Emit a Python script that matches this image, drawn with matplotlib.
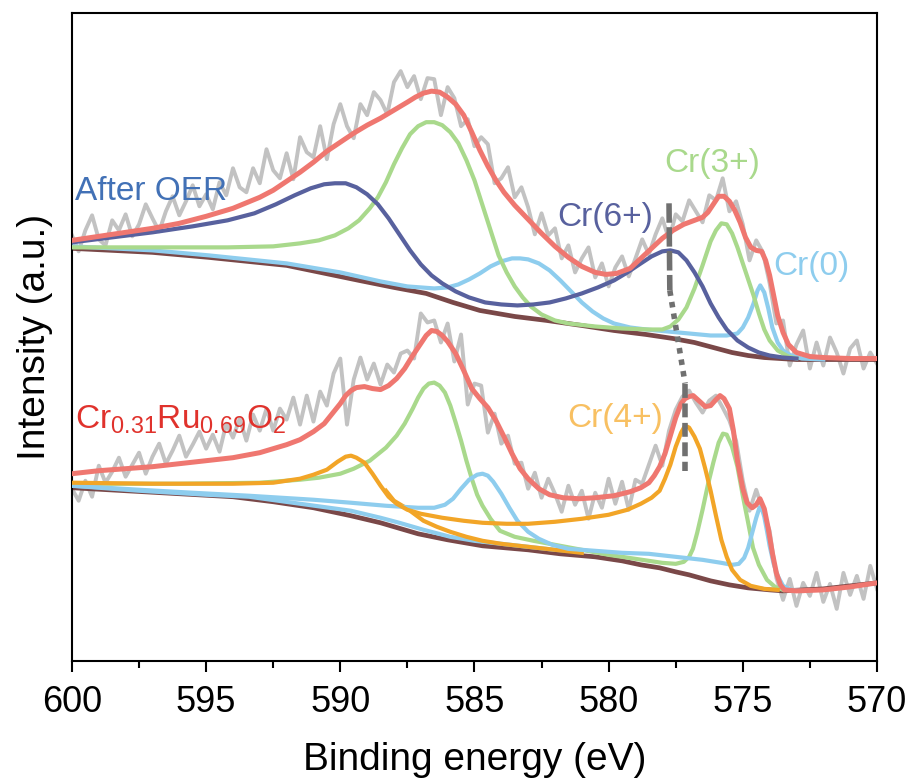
import numpy as np
import matplotlib
matplotlib.use("Agg")
import matplotlib.pyplot as plt
from matplotlib.ticker import MultipleLocator

plt.rcParams["font.family"] = ["Liberation Sans", "DejaVu Sans"]
plt.rcParams["mathtext.default"] = "regular"

# ---------------- DATA (binding energy in eV, intensity in a.u.) ---------------- #

# raw spectra, 0.25 eV steps from 600 to 570
raw_x = np.arange(600.0, 569.99, -0.25)

ao_raw = [425, 409, 430, 445, 421, 415, 440, 430, 446, 424, 436, 456, 442, 429, 449, 464,
          445, 459, 475, 454, 466, 451, 478, 465, 492, 473, 468, 492, 477, 511, 490, 482,
          507, 481, 523, 508, 503, 534, 501, 536, 556, 534, 522, 556, 545, 568, 560, 546,
          578, 589, 573, 584, 561, 582, 581, 545, 573, 562, 534, 541, 514, 523, 516, 477,
          482, 493, 463, 473, 453, 426, 447, 425, 432, 402, 415, 388, 402, 413, 383, 397,
          374, 393, 404, 384, 402, 421, 406, 426, 442, 421, 446, 439, 460, 449, 438, 465,
          460, 482, 449, 459, 436, 400, 420, 408, 377, 337, 340, 295, 316, 330, 292, 318,
          295, 323, 308, 287, 312, 320, 292, 308, 297]

cro_raw = [172, 160, 180, 164, 195, 178, 189, 203, 184, 196, 208, 187, 204, 217, 197, 210,
           225, 204, 216, 229, 212, 226, 209, 237, 223, 242, 220, 246, 230, 252, 230, 252,
           241, 263, 236, 265, 239, 269, 255, 287, 302, 236, 281, 303, 281, 297, 276, 296,
           288, 307, 310, 302, 347, 338, 340, 318, 337, 299, 326, 256, 277, 275, 228, 247,
           217, 225, 197, 198, 172, 188, 163, 182, 167, 149, 175, 156, 170, 142, 168, 153,
           182, 157, 179, 151, 181, 177, 196, 215, 195, 230, 251, 264, 270, 258, 248, 260,
           265, 253, 240, 220, 180, 150, 171, 150, 130, 83, 61, 82, 55, 78, 65, 88,
           59, 77, 52, 88, 66, 85, 62, 95, 72]

# After OER: background, envelope and components
ao_bg_x = [600.0, 597.0, 594.9, 592.0, 589.3, 588.0, 586.8, 585.8, 584.8, 583.5, 582.3,
           581.0, 579.8, 578.6, 577.6, 576.8, 576.1, 575.4, 574.8, 574.2, 573.6, 573.0, 572.0, 570.0]
ao_bg_y = [412, 408, 403, 395, 380, 373, 367, 358, 350, 344, 340,
           335, 330, 326, 322, 318, 313, 308, 305, 303, 302, 301, 301, 301]

ao_env_x = [600.0, 599.0, 598.0, 597.0, 596.0, 595.0, 594.0, 593.0, 592.5, 592.0, 591.5,
            591.0, 590.5, 590.0, 589.5, 589.0, 588.5, 588.0, 587.5, 587.2, 586.9, 586.6,
            586.3, 586.0, 585.7, 585.4, 585.1, 584.8, 584.5, 584.2, 583.9, 583.5, 583.0,
            582.5, 582.0, 581.5, 581.0, 580.5, 580.1, 579.7, 579.2, 578.8, 578.4, 578.0,
            577.6, 577.2, 576.8, 576.5, 576.3, 576.1, 575.9, 575.7, 575.5, 575.3, 575.1,
            574.9, 574.7, 574.5, 574.3, 574.15, 574.0, 573.85, 573.7, 573.5, 573.3, 573.0,
            572.5, 572.0, 571.0, 570.0]
ao_env_y = [420, 424, 428, 432, 437, 444, 452, 463, 470, 479, 488,
            498, 509, 518, 527, 535, 542, 550, 558, 563, 567, 569,
            568, 563, 556, 545, 528, 510, 494, 480, 468, 455, 441,
            427, 414, 403, 394, 388, 386, 387, 392, 402, 412, 422,
            430, 436, 440, 443, 448, 456, 464, 464, 459, 450, 438,
            423, 413, 410, 409, 400, 385, 365, 345, 328, 316, 308,
            304, 303, 302, 302]

ao_cr6_x = [600.0, 598.5, 597.0, 595.5, 594.2, 593.2, 592.4, 591.7, 591.1, 590.6, 590.2,
            589.8, 589.4, 589.0, 588.6, 588.2, 587.8, 587.4, 587.0, 586.6, 586.2, 585.7,
            585.2, 584.6, 584.0, 583.4, 582.8, 582.2, 581.6, 581.0, 580.4, 579.8, 579.3,
            578.8, 578.4, 578.0, 577.7, 577.4, 577.1, 576.8, 576.5, 576.2, 575.9, 575.6,
            575.2, 574.8, 574.4, 574.0, 573.5, 573.0]
ao_cr6_y = [418, 423, 428, 434, 440, 447, 456, 465, 472, 476, 477,
            477, 473, 466, 456, 442, 426, 410, 396, 385, 377, 369,
            363, 358, 356, 355, 356, 358, 362, 367, 373, 380, 388,
            397, 404, 409, 410, 408, 400, 388, 374, 357, 343, 331,
            320, 313, 308, 305, 303, 302]

ao_cr3_x = [600.0, 597.0, 594.2, 592.5, 591.5, 590.8, 590.2, 589.7, 589.3, 588.9, 588.6,
            588.3, 588.0, 587.7, 587.4, 587.1, 586.8, 586.5, 586.2, 585.9, 585.6, 585.3,
            585.0, 584.7, 584.4, 584.1, 583.8, 583.5, 583.2, 582.9, 582.5, 582.0, 581.5,
            580.5, 579.5, 578.5, 578.0, 577.7, 577.4, 577.1, 576.8, 576.5, 576.2, 576.0,
            575.8, 575.6, 575.4, 575.2, 575.0, 574.8, 574.6, 574.4, 574.2, 574.0, 573.7,
            573.3, 573.0]
ao_cr3_y = [413, 413, 413, 414, 417, 420, 425, 432, 440, 452, 463,
            478, 496, 512, 526, 534, 538, 538, 535, 528, 517, 500,
            480, 455, 430, 405, 388, 374, 363, 354, 346, 340, 337,
            334, 332, 331, 331, 334, 341, 353, 372, 395, 419, 430,
            437, 436, 427, 413, 397, 381, 365, 347, 331, 320, 310,
            304, 302]

ao_cr0_x = [600.0, 597.0, 594.9, 592.0, 590.0, 588.5, 587.5, 587.0, 586.5, 586.0, 585.6,
            585.2, 584.8, 584.4, 584.0, 583.6, 583.3, 583.0, 582.6, 582.2, 581.8, 581.4,
            581.0, 580.6, 580.2, 579.8, 579.2, 578.6, 577.8, 577.0, 576.2, 575.6, 575.2,
            575.0, 574.8, 574.6, 574.45, 574.35, 574.2, 574.05, 573.9, 573.7, 573.5, 573.2,
            572.8, 572.0]
ao_cr0_y = [414, 410, 405, 397, 388, 379, 374, 373, 372, 373, 376,
            381, 387, 394, 399, 402, 402, 401, 397, 390, 380, 369,
            358, 349, 342, 337, 333, 331, 329, 327, 325, 325, 327,
            333, 343, 357, 370, 375, 368, 352, 333, 318, 310, 305,
            302, 301]

# Cr0.31Ru0.69O2: background, envelope and components
cro_bg_x = [600.0, 598.0, 596.0, 594.0, 592.5, 591.0, 589.6, 588.5, 587.1, 586.0, 584.7,
            583.0, 581.8, 580.5, 579.5, 578.8, 578.1, 577.5, 577.0, 576.2, 575.5, 574.8,
            574.0, 573.5, 572.0, 570.0]
cro_bg_y = [173, 170, 167, 164, 159, 153, 145, 138, 127, 121, 115,
            111, 107, 104, 100, 96, 93, 89, 86, 80, 76, 73,
            71, 70, 72, 78]

cro_env_x = [600.0, 599.0, 598.0, 597.0, 596.0, 595.0, 594.0, 593.0, 592.5, 592.0, 591.5,
             591.0, 590.6, 590.3, 590.0, 589.8, 589.6, 589.4, 589.1, 588.8, 588.5, 588.2,
             587.9, 587.6, 587.3, 587.0, 586.8, 586.6, 586.4, 586.2, 586.0, 585.7, 585.4,
             585.1, 584.8, 584.5, 584.2, 583.9, 583.6, 583.3, 583.0, 582.6, 582.2, 581.7,
             581.1, 580.5, 579.8, 579.2, 578.8, 578.5, 578.3, 578.1, 577.9, 577.7, 577.5,
             577.3, 577.15, 577.0, 576.85, 576.6, 576.4, 576.2, 576.0, 575.85, 575.7, 575.5,
             575.35, 575.2, 575.0, 574.84, 574.65, 574.5, 574.36, 574.2, 574.05, 573.9,
             573.75, 573.6, 573.45, 573.0, 572.0, 571.0, 570.0]
cro_env_y = [187, 190, 192, 194, 197, 200, 203, 208, 212, 216, 221,
             229, 237, 247, 257, 265, 270, 273, 274, 272, 271, 275,
             282, 292, 305, 317, 325, 330, 329, 325, 319, 307, 290,
             272, 262, 253, 240, 224, 207, 192, 182, 172, 166, 163,
             162, 163, 165, 169, 173, 178, 185, 194, 207, 225, 243,
             257, 262, 264, 265, 259, 254, 255, 261, 265, 262, 252,
             230, 200, 172, 158, 153, 156, 162, 152, 132, 108,
             88, 76, 71, 70, 71, 74, 78]

cro_cr4_x = [600.0, 597.0, 594.0, 592.5, 591.5, 591.0, 590.5, 590.1, 589.8, 589.6, 589.4,
             589.1, 588.8, 588.5, 588.2, 587.9, 587.5, 587.0, 586.2, 585.4, 584.7, 583.8,
             583.0, 582.0, 581.0, 580.0, 579.3, 578.8, 578.4, 578.1, 577.9, 577.7, 577.5,
             577.3, 577.15, 577.0, 576.8, 576.6, 576.4, 576.2, 576.0, 575.8, 575.6, 575.4,
             575.1, 574.7, 574.2, 573.7]
cro_cr4_y = [178, 177, 177, 178, 182, 186, 191, 199, 204, 205, 203,
             198, 187, 175, 164, 157, 151, 147, 143, 140, 138, 137,
             137, 139, 142, 146, 151, 157, 163, 170, 182, 196, 214,
             228, 235, 233, 224, 212, 192, 170, 145, 121, 104, 91,
             81, 75, 72, 71]

# second orange trace running down to the background
cro_cr4b_x = [588.3, 588.0, 587.5, 586.9, 586.4, 585.9, 585.3, 584.7, 584.0, 583.0, 582.0, 581.0]
cro_cr4b_y = [170, 160, 152, 140, 134, 129, 124, 120, 117, 114, 111, 108]

cro_cr3_x = [600.0, 596.0, 593.0, 591.5, 590.8, 590.0, 589.5, 588.9, 588.3, 587.9, 587.6,
             587.3, 587.1, 586.9, 586.7, 586.5, 586.3, 586.1, 585.9, 585.7, 585.5, 585.3,
             585.1, 584.9, 584.7, 584.4, 584.05, 583.5, 582.8, 581.4, 580.0, 579.0, 578.0,
             577.5, 577.2, 577.0, 576.86, 576.7, 576.5, 576.3, 576.1, 575.9, 575.74, 575.6,
             575.4, 575.2, 575.0, 574.8, 574.62, 574.4, 574.1, 573.8, 573.5]
cro_cr3_y = [177, 177, 178, 181, 183, 187, 192, 200, 213, 225, 237,
             252, 263, 272, 277, 278, 275, 268, 255, 238, 220, 200,
             182, 166, 155, 142, 130, 124, 120, 113, 106, 102, 98,
             97, 99, 104, 112, 128, 151, 176, 198, 218, 227, 226,
             214, 194, 165, 138, 113, 96, 81, 74, 71]

cro_cr0_x = [600.0, 597.5, 595.5, 593.4, 591.0, 589.6, 588.3, 587.1, 586.5, 586.1, 585.8,
             585.5, 585.2, 584.9, 584.7, 584.5, 584.3, 584.0, 583.7, 583.4, 583.0, 582.6,
             582.1, 581.5, 580.5, 579.5, 578.5, 577.5, 576.5, 575.8, 575.4, 575.15, 574.95,
             574.8, 574.65, 574.5, 574.38, 574.3, 574.2, 574.1, 574.0, 573.85, 573.7, 573.5,
             573.2, 572.8]
cro_cr0_y = [175, 171, 168, 165, 161, 158, 155, 153, 153, 156, 162,
             172, 181, 186, 187, 185, 179, 167, 153, 140, 129, 122,
             116, 112, 110, 108, 107, 104, 101, 98, 96, 97, 103,
             113, 128, 143, 153, 153, 144, 130, 115, 97, 85, 75,
             71, 70]

# second blue trace close to the background
cro_cr0b_x = [600.0, 597.5, 595.0, 593.4, 591.5, 589.6, 588.5, 587.8, 586.9, 585.9, 585.0,
              584.0, 583.0, 582.0, 581.4]
cro_cr0b_y = [175, 170, 166, 164, 157, 150, 143, 138, 131, 124, 120,
              117, 114, 111, 110]

# guide line linking Cr(6+) and Cr(4+) peaks
guide_x = [577.75, 577.72, 577.15, 577.15]
guide_y = [457, 370, 277, 190]

# ---------------- COLOURS ---------------- #

c_raw = "#c2c2c2"
c_env = "#ef7770"
c_bg = "#7a4848"
c_cr6 = "#58619e"
c_cr3 = "#a9d98c"
c_cr0 = "#8ecdee"
c_cr4 = "#f2a527"

# ---------------- PLOT ---------------- #

fig = plt.figure(figsize=(9.12, 7.84), dpi=100)
ax = fig.add_axes([0.0789, 0.1569, 0.8827, 0.8265])

ax.plot(raw_x, ao_raw, color=c_raw, lw=2.8, zorder=1)
ax.plot(raw_x, cro_raw, color=c_raw, lw=2.8, zorder=1)

# after OER
ax.plot(ao_bg_x, ao_bg_y, color=c_bg, lw=3.4, zorder=2)
ax.plot(ao_cr0_x, ao_cr0_y, color=c_cr0, lw=3.0, zorder=3)
ax.plot(ao_cr3_x, ao_cr3_y, color=c_cr3, lw=3.0, zorder=3)
ax.plot(ao_cr6_x, ao_cr6_y, color=c_cr6, lw=3.0, zorder=3)
ax.plot(ao_env_x, ao_env_y, color=c_env, lw=3.6, zorder=4)

# Cr0.31Ru0.69O2
ax.plot(cro_bg_x, cro_bg_y, color=c_bg, lw=3.4, zorder=2)
ax.plot(cro_cr0b_x, cro_cr0b_y, color=c_cr0, lw=3.0, zorder=3)
ax.plot(cro_cr4b_x, cro_cr4b_y, color=c_cr4, lw=3.0, zorder=3)
ax.plot(cro_cr3_x, cro_cr3_y, color=c_cr3, lw=3.0, zorder=3)
ax.plot(cro_cr0_x, cro_cr0_y, color=c_cr0, lw=3.0, zorder=3)
ax.plot(cro_cr4_x, cro_cr4_y, color=c_cr4, lw=3.0, zorder=3)
ax.plot(cro_env_x, cro_env_y, color=c_env, lw=3.6, zorder=4)

# dashed / dotted guide
ax.plot(guide_x[0:2], guide_y[0:2], color="#707070", lw=4, dashes=(3.5, 0.8), zorder=5)
ax.plot(guide_x[1:3], guide_y[1:3], color="#707070", lw=4, dashes=(1, 1.1), zorder=5)
ax.plot(guide_x[2:4], guide_y[2:4], color="#707070", lw=4, dashes=(2.5, 1.0), zorder=5)

# labels
ax.text(599.9, 460, "After OER", color="#4271b6", fontsize=24, ha="left", va="baseline")
ax.text(599.9, 232, r"Cr$_{0.31}$Ru$_{0.69}$O$_2$", color="#e0322c", fontsize=24,
        ha="left", va="baseline")
ax.text(580.14, 434, "Cr(6+)", color=c_cr6, fontsize=24, ha="center", va="baseline")
ax.text(576.15, 488, "Cr(3+)", color=c_cr3, fontsize=24, ha="center", va="baseline")
ax.text(572.46, 385, "Cr(0)", color=c_cr0, fontsize=24, ha="center", va="baseline")
ax.text(579.76, 234, "Cr(4+)", color="#f8c062", fontsize=24, ha="center", va="baseline")

ax.set_xlim(600, 570)
ax.set_ylim(0, 647)
ax.set_yticks([])
ax.xaxis.set_major_locator(MultipleLocator(5))
ax.xaxis.set_minor_locator(MultipleLocator(2.5))
ax.tick_params(axis="x", which="major", direction="out", length=8, width=1.5,
               labelsize=26, pad=9)
ax.tick_params(axis="x", which="minor", direction="out", length=5, width=1.5)
for s in ax.spines.values():
    s.set_linewidth(1.5)

ax.set_xlabel("Binding energy (eV)", fontsize=28, labelpad=16)
ax.set_ylabel("Intensity (a.u.)", fontsize=28, labelpad=14)

plt.savefig("out.png", dpi=100)
plt.close()
